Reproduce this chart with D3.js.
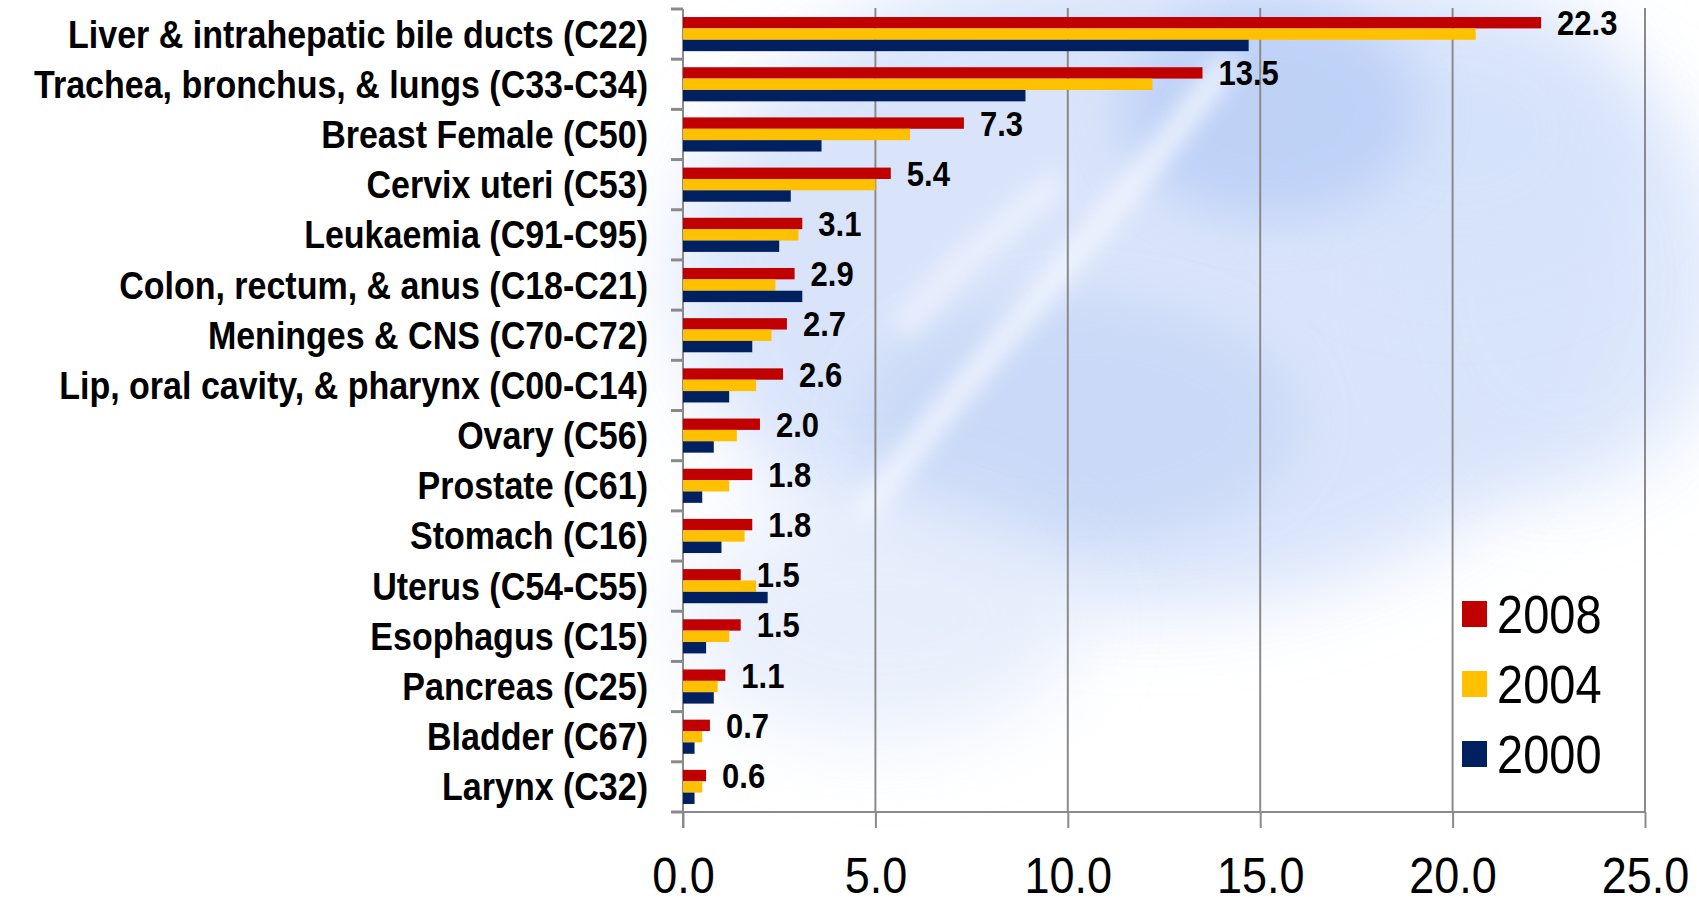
<!DOCTYPE html>
<html>
<head>
<meta charset="utf-8">
<script src="https://cdn.jsdelivr.net/npm/d3@7"></script>
<style>
  html, body { margin: 0; padding: 0; background: #ffffff; overflow: hidden; }
  svg { display: block; }
  text { font-family: "Liberation Sans", Arial, Helvetica, sans-serif; fill: #000; }
</style>
</head>
<body>
<svg id="chart" width="1699" height="903"></svg>
<script>
// Cancer sites, top to bottom
const categories = [
  "Liver & intrahepatic bile ducts (C22)",
  "Trachea, bronchus, & lungs (C33-C34)",
  "Breast Female (C50)",
  "Cervix uteri (C53)",
  "Leukaemia (C91-C95)",
  "Colon, rectum, & anus (C18-C21)",
  "Meninges & CNS (C70-C72)",
  "Lip, oral cavity, & pharynx (C00-C14)",
  "Ovary (C56)",
  "Prostate (C61)",
  "Stomach (C16)",
  "Uterus (C54-C55)",
  "Esophagus (C15)",
  "Pancreas (C25)",
  "Bladder (C67)",
  "Larynx (C32)"
];

const years = ["2008", "2004", "2000"];

const values2008 = [22.3, 13.5, 7.3, 5.4, 3.1, 2.9, 2.7, 2.6, 2.0, 1.8, 1.8, 1.5, 1.5, 1.1, 0.7, 0.6];
const values2004 = [20.6, 12.2, 5.9, 5.0, 3.0, 2.4, 2.3, 1.9, 1.4, 1.2, 1.6, 1.9, 1.2, 0.9, 0.5, 0.5];
const values2000 = [14.7, 8.9, 3.6, 2.8, 2.5, 3.1, 1.8, 1.2, 0.8, 0.5, 1.0, 2.2, 0.6, 0.8, 0.3, 0.3];

const xTicks = [0, 5, 10, 15, 20, 25];

const colors = { "2008": "#C00000", "2004": "#FFC000", "2000": "#002060" };
const seriesValues = { "2008": values2008, "2004": values2004, "2000": values2000 };

const svg = d3.select("#chart");

// Soft blue backdrop behind the plot
const defs = svg.append("defs");
[["blur40", 40], ["blur25", 25], ["blur10", 10]].forEach(([id, s]) => {
  defs.append("filter").attr("id", id)
    .attr("x", "-50%").attr("y", "-50%").attr("width", "200%").attr("height", "200%")
    .append("feGaussianBlur").attr("stdDeviation", s);
});

const bg = svg.append("g").attr("class", "backdrop");
bg.append("ellipse").attr("cx", 1150).attr("cy", 280).attr("rx", 470).attr("ry", 330)
  .attr("fill", "#d3e0fa").attr("opacity", 0.85).attr("filter", "url(#blur40)");
bg.append("ellipse").attr("cx", 1560).attr("cy", 280).attr("rx", 170).attr("ry", 210)
  .attr("fill", "#d8e4fb").attr("opacity", 0.85).attr("filter", "url(#blur40)");
bg.append("ellipse").attr("cx", 1460).attr("cy", 130).attr("rx", 180).attr("ry", 150)
  .attr("fill", "#d5e2fb").attr("opacity", 0.8).attr("filter", "url(#blur40)");
bg.append("ellipse").attr("cx", 1270).attr("cy", 110).attr("rx", 150).attr("ry", 110)
  .attr("fill", "#b9cef6").attr("opacity", 0.8).attr("filter", "url(#blur25)");
bg.append("ellipse").attr("cx", 1080).attr("cy", 420).attr("rx", 220).attr("ry", 120)
  .attr("fill", "#c4d5f6").attr("opacity", 0.7).attr("filter", "url(#blur25)");
bg.append("ellipse").attr("cx", 880).attr("cy", 620).attr("rx", 200).attr("ry", 120)
  .attr("fill", "#e3ebfb").attr("opacity", 0.8).attr("filter", "url(#blur40)");
bg.append("path")
  .attr("d", "M860,520 C960,380 1080,260 1230,60")
  .attr("fill", "none").attr("stroke", "#f4f8ff").attr("stroke-width", 26)
  .attr("opacity", 0.75).attr("filter", "url(#blur10)");
bg.append("path")
  .attr("d", "M900,330 C960,260 1000,230 1060,180")
  .attr("fill", "none").attr("stroke", "#eef3ff").attr("stroke-width", 30)
  .attr("opacity", 0.7).attr("filter", "url(#blur10)");

// Scales
const x = d3.scaleLinear().domain([0, 25]).range([683, 1645]);
const plotTop = 9, plotBottom = 812;
const y = d3.scaleBand().domain(categories).range([plotTop, plotBottom])
  .paddingInner(0.32).paddingOuter(0.16);
const ySub = d3.scaleBand().domain(years).range([0, y.bandwidth()]).padding(0);
const step = y.step();

const gridColor = "#8a8a8a";

// Vertical gridlines
svg.append("g").selectAll("line").data(xTicks.slice(1)).join("line")
  .attr("x1", d => x(d)).attr("x2", d => x(d))
  .attr("y1", plotTop - 1).attr("y2", plotBottom)
  .attr("stroke", gridColor).attr("stroke-width", 2);

// Value axis along the bottom
const xAxis = d3.axisBottom(x).tickValues(xTicks).tickSize(16).tickFormat(d3.format(".1f"));
const gx = svg.append("g").attr("transform", `translate(0,${plotBottom})`).call(xAxis);
gx.select(".domain").attr("stroke", gridColor).attr("stroke-width", 2)
  .attr("d", `M671,0H${x(25)}`);
gx.selectAll(".tick line").attr("stroke", gridColor).attr("stroke-width", 2);
gx.selectAll(".tick text")
  .attr("y", 0).attr("dy", null)
  .attr("transform", `translate(0,81) scale(1,1.1)`)
  .style("font-size", "45px").style("font-family", "'Liberation Sans', Arial, sans-serif")
  .attr("fill", "#000");

// Category axis: line plus tick marks at category boundaries
const boundaries = d3.range(categories.length + 1).map(i => plotTop + i * step);
const gy = svg.append("g");
gy.append("line").attr("x1", x(0)).attr("x2", x(0))
  .attr("y1", plotTop).attr("y2", plotBottom + 16)
  .attr("stroke", gridColor).attr("stroke-width", 2);
gy.selectAll("line.tk").data(boundaries).join("line").attr("class", "tk")
  .attr("x1", x(0) - 12).attr("x2", x(0))
  .attr("y1", d => d).attr("y2", d => d)
  .attr("stroke", gridColor).attr("stroke-width", 3);

// Category labels
svg.append("g").selectAll("text").data(categories).join("text")
  .attr("transform", d => `translate(648,${y(d) + y.bandwidth() / 2 + 13.5}) scale(1,1.16)`)
  .attr("text-anchor", "end")
  .style("font-size", "34px").style("font-weight", "bold")
  .text(d => d);

// Bars
const groups = svg.append("g").selectAll("g").data(categories).join("g")
  .attr("transform", d => `translate(0,${y(d)})`);
groups.selectAll("rect")
  .data((d, i) => years.map(yr => ({ yr, v: seriesValues[yr][i] })))
  .join("rect")
  .attr("x", x(0))
  .attr("y", d => ySub(d.yr))
  .attr("width", d => x(d.v) - x(0))
  .attr("height", ySub.bandwidth())
  .attr("fill", d => colors[d.yr]);

// Value labels for 2008
svg.append("g").selectAll("text").data(categories).join("text")
  .attr("transform", (d, i) =>
    `translate(${x(values2008[i]) + 16},${y(d) + ySub("2008") + ySub.bandwidth() / 2 + 12.5}) scale(1,1.14)`)
  .style("font-size", "31px").style("font-weight", "bold")
  .text((d, i) => d3.format(".1f")(values2008[i]));

// Legend
const legend = svg.append("g").selectAll("g").data(years).join("g")
  .attr("transform", (d, i) => `translate(1462,${601 + i * 70})`);
legend.append("rect").attr("width", 25).attr("height", 26).attr("fill", d => colors[d]);
legend.append("text")
  .attr("transform", "translate(35,32) scale(1,1.16)")
  .style("font-size", "47px")
  .text(d => d);
</script>
</body>
</html>
